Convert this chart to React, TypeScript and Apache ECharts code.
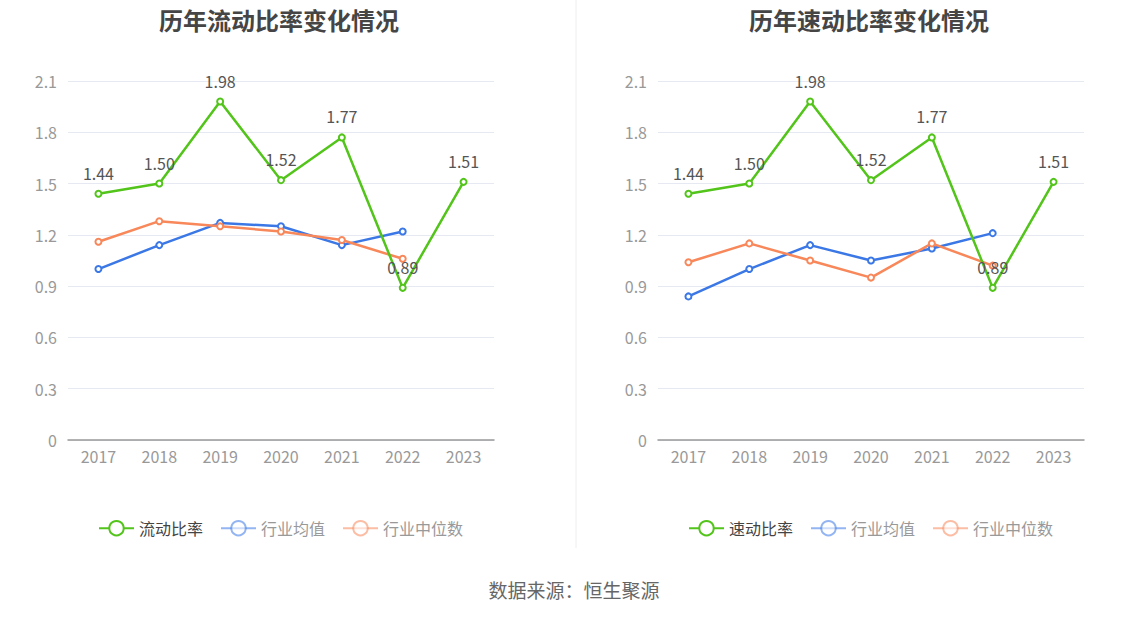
import React, { useEffect, useRef } from "react";
import * as echarts from "echarts";

const years = ["2017", "2018", "2019", "2020", "2021", "2022", "2023"];
const currentRatio = [1.44, 1.5, 1.98, 1.52, 1.77, 0.89, 1.51];
const currentAvg = [1.0, 1.14, 1.27, 1.25, 1.14, 1.22];
const currentMedian = [1.16, 1.28, 1.25, 1.22, 1.17, 1.06];
const quickRatio = [1.44, 1.5, 1.98, 1.52, 1.77, 0.89, 1.51];
const quickAvg = [0.84, 1.0, 1.14, 1.05, 1.12, 1.21];
const quickMedian = [1.04, 1.15, 1.05, 0.95, 1.15, 1.02];

const GREEN = "#52c41a";
const BLUE = "#3b78e6";
const ORANGE = "#f8875a";
const FONT = "'Noto Sans CJK SC', 'Noto Sans', sans-serif";

export default function App() {
  const ref = useRef<HTMLDivElement>(null);
  useEffect(() => {
    document.body.style.margin = "0";
    const chart = echarts.init(ref.current!, undefined, { renderer: "svg" });
    const xAxis = (gridIndex: number) => ({
      type: "category",
      gridIndex,
      data: years,
      boundaryGap: true,
      axisLine: { lineStyle: { color: "#999", width: 1.5 } },
      axisTick: { alignWithLabel: true, lineStyle: { color: "#999" } },
      axisLabel: { color: "#999", fontSize: 16, margin: 8, fontFamily: FONT },
    });
    const yAxis = (gridIndex: number) => ({
      type: "value",
      gridIndex,
      min: 0,
      max: 2.1,
      interval: 0.3,
      axisLine: { show: false },
      axisTick: { show: false },
      axisLabel: { color: "#999", fontSize: 16, margin: 11, fontFamily: FONT },
      splitLine: { lineStyle: { color: "#e6e9f2" } },
    });
    const line = (name: string, data: number[], color: string, idx: number, label: boolean) => ({
      name,
      type: "line",
      xAxisIndex: idx,
      yAxisIndex: idx,
      data,
      symbol: "emptyCircle",
      symbolSize: 6,
      lineStyle: { color, width: 2.5 },
      itemStyle: { color, borderWidth: 2 },
      label: label
        ? {
            show: true,
            position: "top",
            distance: 9,
            color: "#555",
            fontSize: 16,
            fontFamily: FONT,
            formatter: (p: any) => Number(p.value).toFixed(2),
          }
        : { show: false },
      z: label ? 3 : 2,
    });
    const legend = (left: number, main: string) => ({
      left,
      top: 515,
      itemWidth: 35,
      itemHeight: 18,
      itemGap: 17,
      textStyle: { fontSize: 16, fontFamily: FONT, color: "#999" },
      data: [
        { name: main, textStyle: { color: "#444" } },
        { name: "行业均值", itemStyle: { opacity: 0.55 }, lineStyle: { opacity: 0.55 } },
        { name: "行业中位数", itemStyle: { opacity: 0.55 }, lineStyle: { opacity: 0.55 } },
      ],
    });
    chart.setOption({
      animation: false,
      title: [
        {
          text: "历年流动比率变化情况",
          left: 274,
          textAlign: "center",
          top: 2,
          textStyle: { fontSize: 24, fontWeight: "bold", color: "#454545", fontFamily: FONT },
        },
        {
          text: "历年速动比率变化情况",
          left: 864,
          textAlign: "center",
          top: 2,
          textStyle: { fontSize: 24, fontWeight: "bold", color: "#454545", fontFamily: FONT },
        },
      ],
      legend: [legend(93, "流动比率"), legend(683, "速动比率")],
      grid: [
        { left: 68, width: 426, top: 81, height: 359 },
        { left: 658, width: 426, top: 81, height: 359 },
      ],
      xAxis: [xAxis(0), xAxis(1)],
      yAxis: [yAxis(0), yAxis(1)],
      series: [
        line("流动比率", currentRatio, GREEN, 0, true),
        line("行业均值", currentAvg, BLUE, 0, false),
        line("行业中位数", currentMedian, ORANGE, 0, false),
        line("速动比率", quickRatio, GREEN, 1, true),
        line("行业均值", quickAvg, BLUE, 1, false),
        line("行业中位数", quickMedian, ORANGE, 1, false),
      ],
      graphic: [
        {
          type: "line",
          shape: { x1: 576, y1: 0, x2: 576, y2: 548 },
          style: { stroke: "#eeeeee", lineWidth: 1 },
        },
        {
          type: "text",
          left: "center",
          top: 580,
          style: { text: "数据来源：恒生聚源", fill: "#666", fontSize: 19, fontFamily: FONT },
        },
      ],
    });
    return () => chart.dispose();
  }, []);
  return <div ref={ref} style={{ width: 1148, height: 619 }} />;
}
